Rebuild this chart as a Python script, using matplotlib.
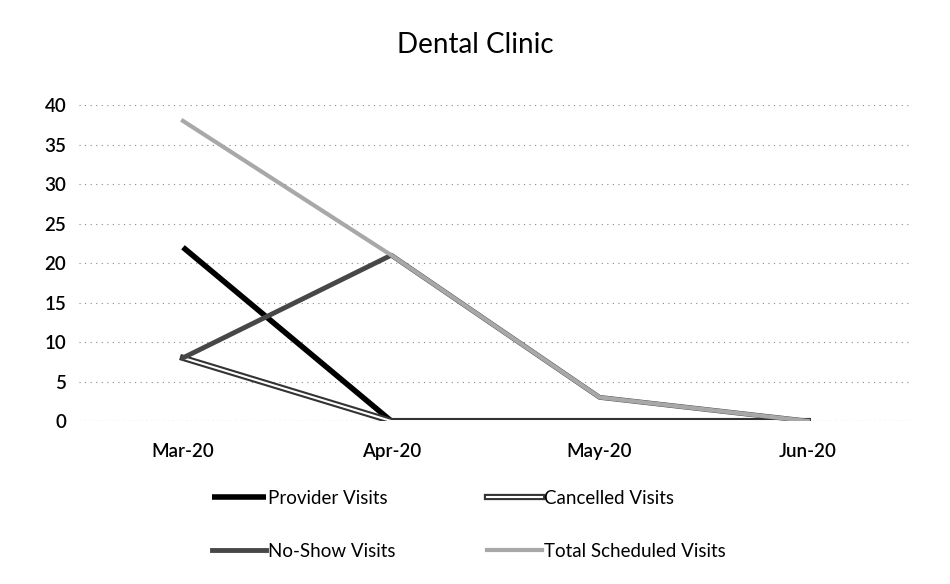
import matplotlib
matplotlib.use('Agg')
import matplotlib.pyplot as plt
import matplotlib.patheffects as pe

months = ['Mar-20', 'Apr-20', 'May-20', 'Jun-20']
provider = [22, 0, 0, 0]
cancelled = [8, 0, 0, 0]
no_show = [8, 21, 3, 0]
total = [38, 21, 3, 0]

plt.rcParams['font.family'] = ['Lato', 'DejaVu Sans']

fig = plt.figure(figsize=(9.5, 5.84), dpi=100)
ax = fig.add_axes([0.083, 0.279, 0.877, 0.541])

x = range(len(months))

l_prov, = ax.plot(x, provider, color='black', lw=4, solid_capstyle='butt',
                  label='Provider Visits', zorder=3)
l_canc, = ax.plot(x, cancelled, color='white', lw=1.5, label='Cancelled Visits', zorder=3,
                  path_effects=[pe.Stroke(linewidth=4.5, foreground='#333333'), pe.Normal()])
l_nosh, = ax.plot(x, no_show, color='#474747', lw=3.5, label='No-Show Visits', zorder=3)
l_tot, = ax.plot(x, total, color='#a8a8a8', lw=3, label='Total Scheduled Visits', zorder=4)

ax.set_xlim(-0.5, 3.5)
ax.set_ylim(0, 40)
ax.set_yticks(range(0, 41, 5))
ax.set_xticks(list(x))
ax.set_xticklabels(months)
ax.tick_params(axis='both', length=0, labelsize=13.5)
ax.tick_params(axis='x', pad=16)
ax.tick_params(axis='y', pad=9)
for lab in ax.get_xticklabels() + ax.get_yticklabels():
    lab.set_fontweight('semibold')
ax.grid(axis='y', color='#888888', linestyle=(0, (1, 4)), lw=0.8)
for s in ax.spines.values():
    s.set_visible(False)
ax.axhline(0, color='#777777', linestyle=(0, (1, 3)), lw=0.8, zorder=1)

fig.text(0.5, 0.923, 'Dental Clinic', ha='center', va='center', fontsize=20)

# legend fills column-wise, so order handles to get Provider/Cancelled on the first row
fig.legend([l_prov, l_nosh, l_canc, l_tot],
           ['Provider Visits', 'No-Show Visits', 'Cancelled Visits', 'Total Scheduled Visits'],
           loc='upper left', bbox_to_anchor=(0.205, 0.19), ncol=2, frameon=False,
           fontsize=13.5, handlelength=2.9, handletextpad=0.1, columnspacing=4.9,
           labelspacing=1.9)

fig.savefig('out.png', dpi=100, facecolor='white')
